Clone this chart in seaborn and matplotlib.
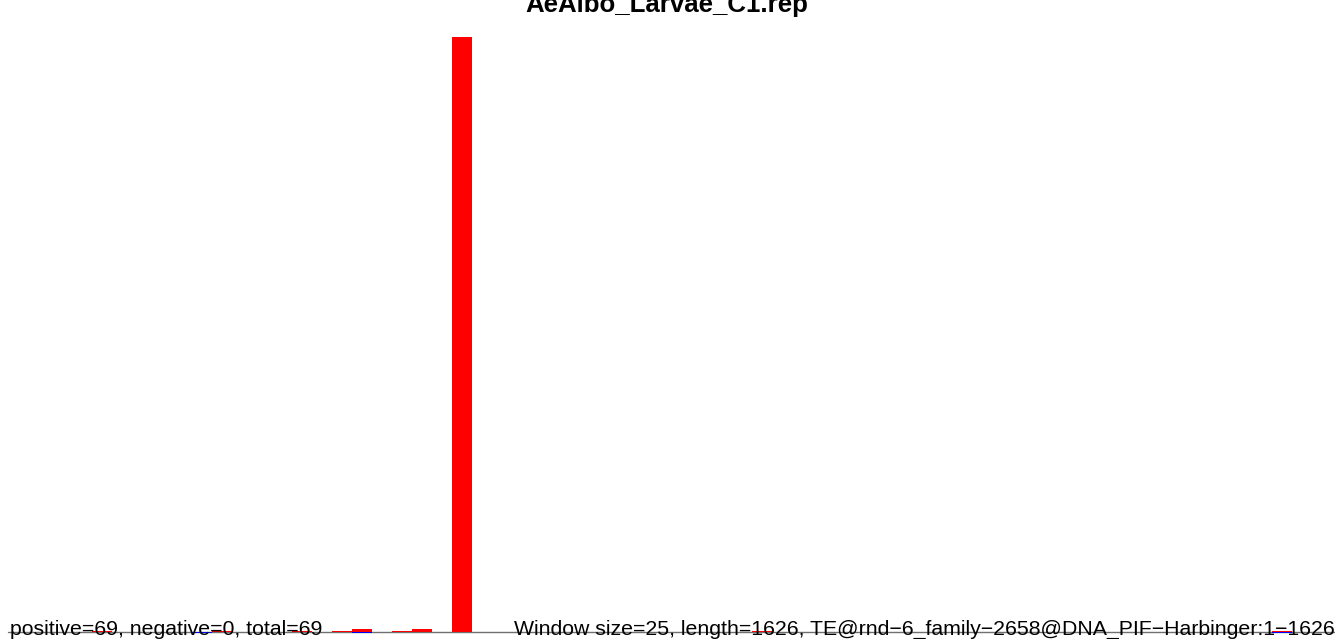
import numpy as np
import pandas as pd
import matplotlib
matplotlib.use("Agg")
import matplotlib.pyplot as plt
import seaborn as sns

title = "AeAlbo_Larvae_C1.rep"
left_note = "positive=69, negative=0, total=69"
right_note = "Window size=25, length=1626, TE@rnd\u22126_family\u22122658@DNA_PIF\u2212Harbinger:1\u22121626"

window = 25
length = 1626
pos_starts = [100, 250, 350, 400, 425, 475, 500, 550, 925, 1575]
pos_vals = [0.15, 0.15, 0.15, 0.15, 0.3, 0.15, 0.3, 60, 0.15, 0.15]
neg_starts = [225, 425, 1575]
neg_vals = [-0.15, -0.15, -0.15]

sns.set_theme(style="white")
plt.rcParams['font.family'] = ['Liberation Sans', 'DejaVu Sans']

W, H = 1335, 639
fig = plt.figure(figsize=(W / 100, H / 100), dpi=100)
top_px = 20
ax = fig.add_axes([0, 0, 1, (H - top_px) / H])

pos_df = pd.DataFrame({"start": pos_starts, "value": pos_vals})
neg_df = pd.DataFrame({"start": neg_starts, "value": neg_vals})
nbins = int(np.ceil(length / window))
brange = (0, nbins * window)
sns.histplot(data=pos_df, x="start", weights="value", binwidth=window,
             binrange=brange, color="#FF0000", alpha=1, linewidth=0,
             edgecolor="none", ax=ax)
sns.histplot(data=neg_df, x="start", weights="value", binwidth=window,
             binrange=brange, color="#0000FF", alpha=1, linewidth=0,
             edgecolor="none", ax=ax)
for p in ax.patches:
    p.set_edgecolor("none")
    p.set_linewidth(0)
    p.set_zorder(2)

px_per_bp = 0.8
xmin = -12 / px_per_bp
xmax = xmin + W / px_per_bp
ax.set_xlim(xmin, xmax)
px_per_unit = 595 / 60
ymin = -(H - 632) / px_per_unit
ymax = (632 - top_px) / px_per_unit
ax.set_ylim(ymin, ymax)
ax.plot([-5, xmax], [0, 0], color="#707070", lw=1.0, zorder=1)
ax.axis("off")

fig.text(10 / W, (H - 635) / H, left_note, fontsize=15.3, color="black",
         ha="left", va="baseline")
fig.text(514 / W, (H - 635) / H, right_note, fontsize=15.3, color="black",
         ha="left", va="baseline")
fig.text(667 / W, (H - 12) / H, title, fontsize=18.6, fontweight="bold",
         color="black", ha="center", va="baseline")

fig.savefig("out.png", dpi=100)
